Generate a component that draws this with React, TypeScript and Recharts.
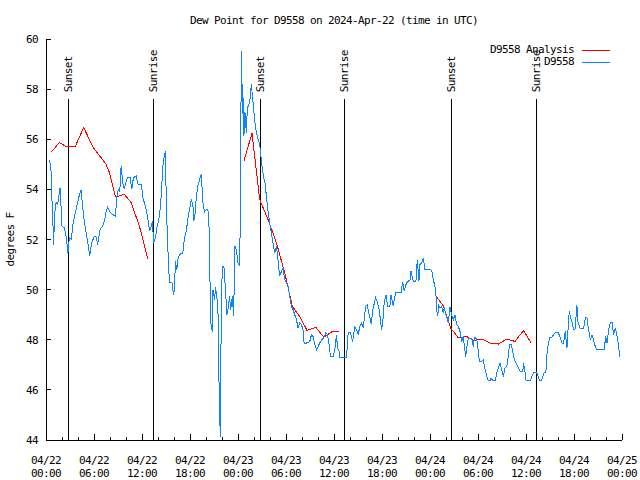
import React from 'react';
import { LineChart, Line, XAxis, YAxis, ReferenceLine, Legend } from 'recharts';

const FONT = '"DejaVu Sans Mono", monospace';
const FONT_SIZE = 11;
const LETTER_SPACING = '-0.62px';

// hours since 04/22 00:00 UTC -> dew point (F), station observations
const obs22: [number, number][] = [
  [0.45, 55.16], [0.63, 54.73], [0.7, 53.87], [0.83, 53.0], [0.95, 51.8], [1.08, 53.0], [1.25, 53.47], [1.45, 53.4],
  [1.67, 53.87], [1.75, 54.07], [1.88, 53.33], [2.0, 52.53], [2.29, 52.47], [2.5, 52.13], [2.67, 51.73], [2.75, 51.47],
  [2.92, 52.07], [3.17, 52.0], [3.33, 52.53], [3.54, 52.87], [3.76, 53.2], [4.08, 53.67], [4.38, 53.97], [4.58, 53.33],
  [4.8, 52.67], [5.01, 52.27], [5.3, 51.73], [5.46, 51.33], [5.71, 51.87], [6.05, 52.13], [6.26, 52.1], [6.46, 51.8],
  [6.76, 52.4], [7.09, 52.53], [7.3, 52.73], [7.51, 53.13], [7.71, 53.3], [8.01, 53.1], [8.34, 53.0], [8.68, 52.93],
  [8.84, 53.67], [9.05, 54.0], [9.22, 53.9], [9.39, 54.93], [9.59, 54.27], [9.8, 54.0], [10.02, 54.33], [10.22, 54.47],
  [10.52, 54.47], [10.72, 54.0], [10.93, 54.47], [11.27, 54.53], [11.52, 54.2], [11.93, 54.2], [12.1, 53.67], [12.43, 53.33],
  [12.72, 52.87], [12.94, 52.33], [13.15, 52.53], [13.31, 52.73], [13.44, 51.87], [13.69, 52.07], [13.85, 52.47], [14.19, 52.93],
  [14.4, 53.73], [14.6, 54.93], [14.81, 55.4], [14.94, 55.53], [15.03, 53.47], [15.15, 52.4], [15.31, 51.0], [15.44, 50.27],
  [15.73, 50.3], [15.85, 50.0], [15.98, 49.8], [16.07, 50.27], [16.19, 51.13], [16.35, 50.8], [16.48, 51.2], [16.69, 51.4],
  [17.1, 51.47], [17.32, 52.07], [17.53, 52.33], [17.73, 52.8], [17.94, 53.2], [18.16, 53.6], [18.36, 53.4], [18.48, 52.73],
  [18.66, 53.1], [18.78, 53.67], [18.98, 54.13], [19.2, 54.4], [19.41, 54.6], [19.61, 53.47], [19.82, 53.1], [20.04, 53.2],
  [20.24, 53.2], [20.45, 52.13], [20.54, 48.93], [20.66, 48.53], [20.79, 48.33], [20.86, 50.0], [21.07, 49.6], [21.2, 50.1],
  [21.49, 49.33], [21.58, 47.07], [21.7, 45.2], [21.79, 44.13], [21.91, 49.2], [22.04, 50.93], [22.24, 50.93], [22.41, 50.13],
  [22.62, 49.0], [22.74, 49.2], [22.95, 49.73], [23.08, 49.2], [23.29, 49.73], [23.45, 48.93], [23.62, 51.73], [23.79, 51.6],
  [23.99, 51.07],
];

const obs23: [number, number][] = [
  [24.21, 50.93], [24.29, 53.07], [24.37, 57.33], [24.46, 59.53], [24.54, 57.0], [24.62, 57.73], [24.74, 56.13], [24.87, 57.07],
  [25.04, 56.27], [25.17, 57.27], [25.33, 57.33], [25.5, 57.6], [25.67, 58.2], [25.8, 57.73], [25.96, 57.2], [26.08, 56.73],
  [26.3, 56.27], [26.5, 56.0], [26.71, 55.8], [26.84, 55.4], [27.05, 54.8], [27.21, 54.47], [27.37, 54.27], [27.55, 53.73],
  [27.75, 53.13], [27.96, 52.67], [28.17, 52.27], [28.38, 51.87], [28.59, 51.47], [28.8, 51.73], [29.0, 51.2], [29.21, 50.53],
  [29.43, 50.73], [29.63, 50.87], [29.84, 50.4], [30.05, 50.27], [30.25, 50.13], [30.47, 49.73], [30.68, 49.33], [30.88, 49.2],
  [31.09, 49.0], [31.31, 48.8], [31.51, 48.47], [31.72, 48.67], [31.93, 48.6], [32.13, 48.4], [32.26, 47.87], [32.56, 47.87],
  [32.97, 47.93], [33.18, 48.2], [33.38, 48.13], [33.6, 47.8], [33.81, 47.6], [34.01, 47.73], [34.22, 47.87], [34.44, 48.0],
  [34.72, 48.07], [34.97, 48.27], [35.19, 48.2], [35.39, 47.8], [35.56, 47.33], [35.89, 47.33], [36.1, 47.6], [36.31, 48.2],
  [36.44, 47.67], [36.64, 47.53], [36.73, 47.31], [37.57, 47.31], [37.77, 48.27], [38.07, 48.27], [38.32, 47.93], [38.61, 48.53],
  [38.82, 48.4], [39.02, 48.2], [39.23, 48.53], [39.44, 48.67], [39.65, 48.47], [39.95, 49.33], [40.15, 49.4], [40.4, 49.0],
  [40.65, 48.64], [40.9, 49.27], [41.2, 49.67], [41.4, 49.53], [41.65, 49.2], [41.95, 48.4], [42.15, 48.87], [42.27, 49.47],
  [42.49, 49.8], [42.7, 49.33], [42.99, 49.33], [43.11, 49.8], [43.4, 49.36], [43.7, 49.87], [44.03, 49.87], [44.37, 49.87],
  [44.58, 50.29], [44.78, 49.93], [44.99, 50.2], [45.2, 50.33], [45.49, 50.37], [45.62, 50.73], [45.91, 50.33], [46.24, 50.33],
  [46.41, 51.2], [46.62, 50.33], [46.74, 51.0], [46.96, 51.07], [47.16, 51.27], [47.37, 50.8], [47.99, 50.8],
];

const obs24: [number, number][] = [
  [48.21, 50.77], [48.41, 50.4], [48.62, 50.13], [48.75, 49.73], [48.84, 49.2], [48.96, 48.93], [49.09, 49.36], [49.25, 49.27],
  [49.46, 49.33], [49.66, 49.07], [49.79, 49.31], [49.96, 49.0], [50.09, 48.91], [50.29, 48.69], [50.5, 49.29], [50.71, 49.0],
  [50.91, 48.8], [51.12, 49.0], [51.34, 48.6], [51.54, 48.53], [51.75, 48.33], [51.97, 47.93], [52.17, 48.13], [52.29, 47.73],
  [52.47, 47.33], [52.59, 47.67], [52.79, 48.07], [53.0, 48.03], [53.21, 48.07], [53.42, 47.73], [53.55, 48.1], [53.72, 48.07],
  [53.85, 48.0], [54.05, 47.53], [54.17, 47.13], [54.47, 47.13], [54.67, 47.2], [54.89, 46.8], [55.1, 46.53], [55.3, 46.36],
  [55.51, 46.36], [55.64, 46.47], [55.85, 46.36], [56.14, 46.36], [56.35, 46.67], [56.55, 46.87], [56.76, 47.07], [56.97, 46.8],
  [57.17, 46.53], [57.38, 46.87], [57.67, 47.0], [57.85, 47.6], [57.97, 47.8], [58.14, 47.8], [58.35, 47.53], [58.55, 47.2],
  [58.85, 47.0], [59.05, 46.87], [59.27, 46.73], [59.6, 46.73], [59.68, 47.07], [59.89, 46.67], [60.02, 46.36], [60.52, 46.36],
  [60.73, 46.53], [60.93, 46.69], [61.14, 46.69], [61.35, 46.67], [61.55, 46.53], [61.68, 46.36], [61.89, 46.36], [62.11, 46.53],
  [62.27, 46.69], [62.48, 46.69], [62.61, 47.4], [62.74, 47.73], [62.94, 48.07], [63.24, 48.1], [63.44, 48.2], [63.66, 48.27],
  [64.06, 48.27], [64.28, 48.07], [64.49, 47.87], [64.69, 47.87], [64.9, 48.33], [65.12, 47.67], [65.24, 48.33], [65.41, 49.13],
  [65.53, 48.93], [65.74, 48.73], [65.94, 48.4], [66.15, 48.43], [66.36, 49.4], [66.49, 48.73], [66.78, 48.43], [67.2, 48.43],
  [67.41, 48.87], [67.62, 48.87], [67.82, 48.4], [68.04, 48.0], [68.25, 48.2], [68.44, 48.0], [68.66, 47.73], [68.87, 47.6],
  [69.79, 47.6], [69.95, 48.13], [70.13, 47.87], [70.33, 48.4], [70.54, 48.67], [70.76, 48.67], [70.96, 48.2], [71.17, 48.47],
  [71.38, 48.13], [71.59, 47.73], [71.71, 47.33],
];

// model analysis, hourly, three separate runs
const analysis22: [number, number][] = [
  [0.7, 55.5], [1.67, 55.87], [2.58, 55.7], [3.67, 55.72], [4.71, 56.47], [5.84, 55.7], [7.51, 55.0],
  [7.93, 54.67], [8.68, 53.7], [9.8, 53.8], [10.64, 53.47], [11.68, 52.53], [12.72, 51.23],
];
const analysis23: [number, number][] = [
  [24.74, 55.13], [25.75, 56.24], [26.71, 53.6], [27.75, 52.8], [28.8, 51.87], [29.84, 50.67], [30.8, 49.33],
  [31.72, 48.93], [32.63, 48.37], [33.72, 48.5], [34.72, 48.1], [35.69, 48.31], [36.64, 48.31],
];
const analysis24: [number, number][] = [
  [48.75, 49.73], [49.66, 49.36], [50.59, 48.47], [51.54, 48.07], [52.59, 48.13], [53.42, 47.97], [54.47, 48.03],
  [55.51, 47.87], [56.55, 47.83], [57.6, 48.03], [58.64, 47.93], [59.68, 48.37], [60.65, 47.87],
];

const sunHours = [2.75, 13.4, 26.75, 37.27, 50.63, 61.31];
const sunLabels = ['Sunset', 'Sunrise', 'Sunset', 'Sunrise', 'Sunset', 'Sunrise'];
const SUN_LINE_TOP = 57.6;

const hourTicks = [0, 2, 4, 6, 8, 10, 12, 14, 16, 18, 20, 22, 24, 26, 28, 30, 32, 34, 36, 38, 40, 42, 44, 46, 48,
  50, 52, 54, 56, 58, 60, 62, 64, 66, 68, 70, 72];
const majorHours = [0, 6, 12, 18, 24, 30, 36, 42, 48, 54, 60, 66, 72];
const majorDates = ['04/22', '04/22', '04/22', '04/22', '04/23', '04/23', '04/23', '04/23', '04/24', '04/24', '04/24', '04/24', '04/25'];
const majorTimes = ['00:00', '06:00', '12:00', '18:00', '00:00', '06:00', '12:00', '18:00', '00:00', '06:00', '12:00', '18:00', '00:00'];
const yTicks = [44, 46, 48, 50, 52, 54, 56, 58, 60];

const SERIES_NAMES = ['D9558 Analysis', 'D9558'];
const RED = '#ff0000';
const BLUE = '#0a84ff';

const obsData = [...obs22, ...obs23, ...obs24].map(([t, v]) => ({ t, v }));
const analysisData = [
  ...analysis22.map(([t, v]) => ({ t, v })),
  { t: 18, v: null },
  ...analysis23.map(([t, v]) => ({ t, v })),
  { t: 42, v: null },
  ...analysis24.map(([t, v]) => ({ t, v })),
];

const X_MARGIN = 10;
const Y_MARGIN = 8;

const textProps = {
  fontFamily: FONT,
  fontSize: FONT_SIZE,
  fill: '#000',
  style: { letterSpacing: LETTER_SPACING },
};

const BottomTick = ({ x, y, payload }: any) => {
  const i = majorHours.indexOf(payload.value);
  const axisY = y - X_MARGIN;
  return (
    <g>
      <line x1={x} x2={x} y1={axisY} y2={axisY - (i >= 0 ? 6 : 3)} stroke="#000" shapeRendering="crispEdges" />
      {i >= 0 && (
        <text textAnchor="middle" {...textProps}>
          <tspan x={x} y={axisY + 23.5}>{majorDates[i]}</tspan>
          <tspan x={x} y={axisY + 37}>{majorTimes[i]}</tspan>
        </text>
      )}
    </g>
  );
};

const TopTick = ({ x, y, payload }: any) => {
  const major = majorHours.includes(payload.value);
  const axisY = y + X_MARGIN;
  return <line x1={x} x2={x} y1={axisY} y2={axisY + (major ? 6 : 3)} stroke="#000" shapeRendering="crispEdges" />;
};

const LeftTick = ({ x, y, payload }: any) => {
  const axisX = x + Y_MARGIN;
  return (
    <g>
      <line x1={axisX} x2={axisX + 5} y1={y} y2={y} stroke="#000" shapeRendering="crispEdges" />
      <text x={x} y={y} dy={4} textAnchor="end" {...textProps}>{payload.value}</text>
    </g>
  );
};

const RightTick = ({ x, y }: any) => {
  const axisX = x - Y_MARGIN;
  return <line x1={axisX} x2={axisX - 5} y1={y} y2={y} stroke="#000" shapeRendering="crispEdges" />;
};

const YLabel = ({ viewBox }: any) => {
  const cx = viewBox.x + 10.5;
  const cy = viewBox.y + viewBox.height / 2;
  return (
    <text transform={`translate(${cx}, ${cy}) rotate(-90)`} textAnchor="middle" dominantBaseline="central" {...textProps}>
      degrees F
    </text>
  );
};

const sunLabel = (text: string) => ({ viewBox }: any) => (
  <text
    transform={`translate(${viewBox.x}, ${viewBox.y - 7}) rotate(-90)`}
    textAnchor="start"
    dominantBaseline="central"
    {...textProps}
  >
    {text}
  </text>
);

const LegendBox = ({ payload }: any) => {
  const items = [...(payload || [])].sort(
    (a, b) => SERIES_NAMES.indexOf(a.value) - SERIES_NAMES.indexOf(b.value)
  );
  return (
    <div style={{ fontFamily: FONT, fontSize: FONT_SIZE, letterSpacing: LETTER_SPACING, color: '#000' }}>
      {items.map((it: any) => (
        <div key={it.value} style={{ display: 'flex', justifyContent: 'flex-end', alignItems: 'center', height: 12 }}>
          <span style={{ lineHeight: '12px', whiteSpace: 'pre' }}>{it.value}</span>
          <span style={{ display: 'inline-block', width: 28, height: 1, background: it.color, marginLeft: 8, marginRight: 10 }} />
        </div>
      ))}
    </div>
  );
};

export default function App() {
  return (
    <div style={{ position: 'absolute', left: 0, top: 0, width: 640, height: 480, background: '#fff' }}>
      <div
        style={{
          position: 'absolute',
          left: 34,
          width: 600,
          top: 14,
          lineHeight: '14px',
          textAlign: 'center',
          fontFamily: FONT,
          fontSize: FONT_SIZE,
          letterSpacing: LETTER_SPACING,
          color: '#000',
        }}
      >
        Dew Point for D9558 on 2024-Apr-22 (time in UTC)
      </div>
      <LineChart width={640} height={480} margin={{ top: 39, right: 18, bottom: 0, left: 0 }}>
        <XAxis
          dataKey="t"
          type="number"
          domain={[0, 72]}
          allowDataOverflow
          ticks={hourTicks}
          interval={0}
          height={40}
          tickSize={0}
          tickMargin={X_MARGIN}
          tickLine={false}
          tick={<BottomTick />}
          axisLine={{ stroke: '#000', shapeRendering: 'crispEdges' }}
        />
        <XAxis
          xAxisId="top"
          orientation="top"
          dataKey="t"
          type="number"
          domain={[0, 72]}
          allowDataOverflow
          ticks={hourTicks}
          interval={0}
          height={0}
          tickSize={0}
          tickMargin={X_MARGIN}
          tickLine={false}
          tick={<TopTick />}
          axisLine={{ stroke: '#000', shapeRendering: 'crispEdges' }}
        />
        <YAxis
          type="number"
          domain={[44, 60]}
          allowDataOverflow
          ticks={yTicks}
          interval={0}
          width={46}
          tickSize={0}
          tickMargin={Y_MARGIN}
          tickLine={false}
          tick={<LeftTick />}
          axisLine={{ stroke: '#000', shapeRendering: 'crispEdges' }}
          label={YLabel}
        />
        <YAxis
          yAxisId="right"
          orientation="right"
          type="number"
          domain={[44, 60]}
          allowDataOverflow
          ticks={yTicks}
          interval={0}
          width={0}
          tickSize={0}
          tickMargin={Y_MARGIN}
          tickLine={false}
          tick={<RightTick />}
          axisLine={{ stroke: '#000', shapeRendering: 'crispEdges' }}
        />
        {sunHours.map((h, i) => (
          <ReferenceLine
            key={i}
            segment={[{ x: h, y: 44 }, { x: h, y: SUN_LINE_TOP }]}
            stroke="#000"
            strokeWidth={1}
            shapeRendering="crispEdges"
            label={sunLabel(sunLabels[i])}
          />
        ))}
        <Line
          data={analysisData}
          dataKey="v"
          name={SERIES_NAMES[0]}
          type="linear"
          stroke={RED}
          strokeWidth={1}
          dot={false}
          activeDot={false}
          shapeRendering="crispEdges"
          isAnimationActive={false}
        />
        <Line
          data={obsData}
          dataKey="v"
          name={SERIES_NAMES[1]}
          type="linear"
          stroke={BLUE}
          strokeWidth={1}
          dot={false}
          activeDot={false}
          shapeRendering="crispEdges"
          isAnimationActive={false}
        />
        <Legend
          layout="horizontal"
          align="center"
          verticalAlign="middle"
          content={<LegendBox />}
          wrapperStyle={{ top: 44, left: 420, width: 200 }}
        />
      </LineChart>
    </div>
  );
}
